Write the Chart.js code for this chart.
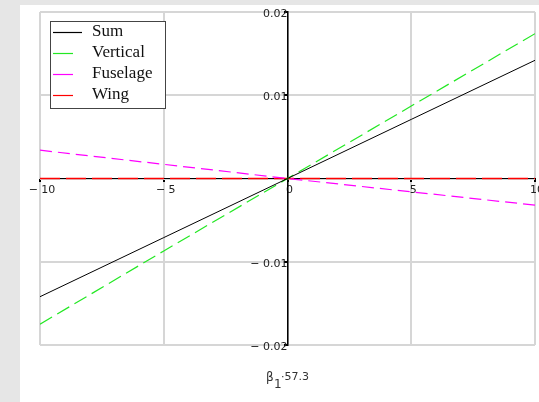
<!DOCTYPE html>
<html>
<head>
<meta charset="utf-8">
<script src="https://cdn.jsdelivr.net/npm/chart.js@4.4.1/dist/chart.umd.min.js"></script>
<style>
  html, body { margin: 0; padding: 0; background: #e6e6e6; }
  #sheet { position: absolute; left: 20px; top: 5px; width: 519px; height: 397px; background: #fff; }
  #wrap { position: absolute; left: 0; top: 0; width: 539px; height: 402px; }
</style>
</head>
<body>
<div id="sheet"></div>
<div id="wrap"><canvas id="chart" width="539" height="402"></canvas></div>
<script>
// data
const xValues = [-10, -5, 0, 5, 10];
const sumValues = [-0.0142, -0.0071, 0, 0.0071, 0.0142];
const verticalValues = [-0.0175, -0.0087, 0, 0.0087, 0.0174];
const fuselageValues = [0.0034, 0.0017, 0, -0.0016, -0.0032];
const wingValues = [0, 0, 0, 0, 0];
const seriesNames = ['Sum', 'Vertical', 'Fuselage', 'Wing'];
const xTicks = [-10, -5, 0, 5, 10];
const yTicks = [-0.02, -0.01, 0, 0.01, 0.02];

const toPoints = ys => xValues.map((x, i) => ({ x: x, y: ys[i] }));
const fmt = v => (v < 0 ? '\u2212 ' + Math.abs(v) : String(v));

const legendBox = {
  id: 'legendBox',
  afterDraw(chart) {
    const ctx = chart.ctx;
    ctx.save();
    ctx.fillStyle = '#fff';
    ctx.fillRect(50.5, 21.5, 115, 87);
    ctx.strokeStyle = '#444';
    ctx.lineWidth = 1;
    ctx.strokeRect(50.5, 21.5, 115, 87);
    ctx.font = '17px "Liberation Serif", serif';
    ctx.textBaseline = 'middle';
    chart.data.datasets.forEach((ds, i) => {
      const y = 32 + i * 21;
      ctx.strokeStyle = ds.borderColor;
      ctx.lineWidth = 1.2;
      ctx.beginPath();
      ctx.moveTo(53, y + 0.5);
      ctx.lineTo(i === 0 ? 82 : 73, y + 0.5);
      ctx.stroke();
      ctx.fillStyle = '#111';
      ctx.fillText(ds.label, 92, y);
    });
    ctx.restore();
  }
};

const axisTitle = {
  id: 'axisTitle',
  afterDraw(chart) {
    const ctx = chart.ctx;
    ctx.save();
    ctx.fillStyle = '#333';
    ctx.textBaseline = 'alphabetic';
    ctx.font = '12px "DejaVu Sans", sans-serif';
    ctx.fillText('\u03b2', 266, 381);
    ctx.fillText('1', 274, 388);
    ctx.font = '11px "DejaVu Sans", sans-serif';
    ctx.fillText('\u00b757.3', 281, 380);
    ctx.restore();
  }
};

new Chart(document.getElementById('chart').getContext('2d'), {
  type: 'line',
  data: {
    datasets: [
      {
        label: seriesNames[0],
        data: toPoints(sumValues),
        borderColor: '#000000',
        borderWidth: 1,
        pointRadius: 0
      },
      {
        label: seriesNames[1],
        data: toPoints(verticalValues),
        borderColor: '#22e822',
        borderWidth: 1.2,
        borderDash: [14, 6],
        pointRadius: 0
      },
      {
        label: seriesNames[2],
        data: toPoints(fuselageValues),
        borderColor: '#ff00ff',
        borderWidth: 1.2,
        borderDash: [12, 6],
        pointRadius: 0
      },
      {
        label: seriesNames[3],
        data: toPoints(wingValues),
        borderColor: '#ff0000',
        borderWidth: 1.5,
        borderDash: [20, 6],
        pointRadius: 0
      }
    ]
  },
  options: {
    responsive: false,
    animation: false,
    layout: { padding: { left: 40, top: 12, right: 4, bottom: 57 } },
    plugins: {
      legend: { display: false },
      tooltip: { enabled: false }
    },
    scales: {
      x: {
        type: 'linear',
        position: { y: 0 },
        min: -10,
        max: 10,
        afterBuildTicks: s => { s.ticks = xTicks.map(v => ({ value: v })); },
        afterFit: s => { s.paddingLeft = 0; s.paddingRight = 0; },
        grid: { color: '#d6d6d6', lineWidth: 2, tickLength: 3, tickColor: '#000' },
        border: { color: '#000', width: 1 },
        ticks: {
          padding: 2,
          labelOffset: 2,
          maxRotation: 0,
          autoSkip: false,
          color: '#222',
          font: { family: '"DejaVu Sans", sans-serif', size: 11 },
          callback: v => fmt(v)
        }
      },
      y: {
        type: 'linear',
        position: { x: 0 },
        min: -0.02,
        max: 0.02,
        afterBuildTicks: s => { s.ticks = yTicks.map(v => ({ value: v })); },
        grid: { color: '#d6d6d6', lineWidth: 2, tickLength: 3, tickColor: '#000' },
        border: { color: '#000', width: 1.5 },
        ticks: {
          padding: 3,
          labelOffset: 2,
          autoSkip: false,
          color: '#222',
          font: { family: '"DejaVu Sans", sans-serif', size: 11 },
          callback: v => (v === 0 ? '' : fmt(Math.round(v * 100) / 100))
        }
      }
    }
  },
  plugins: [legendBox, axisTitle]
});
</script>
</body>
</html>
